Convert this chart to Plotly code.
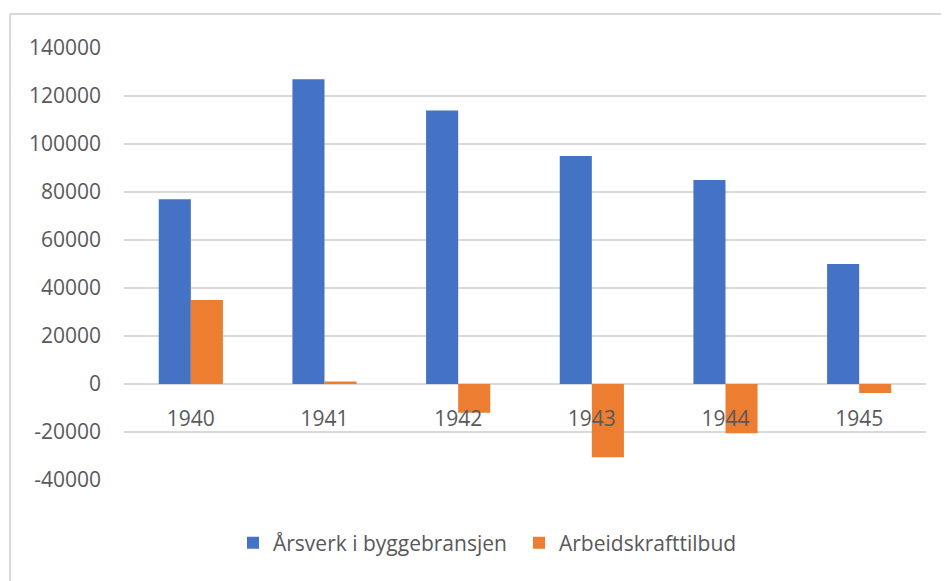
import plotly.graph_objects as go

years = ["1940", "1941", "1942", "1943", "1944", "1945"]
arsverk = [77000, 127000, 114000, 95000, 85000, 50000]
arbeidskraft = [35000, 1000, -12000, -30500, -20500, -3800]
y_ticks = [-40000, -20000, 0, 20000, 40000, 60000, 80000, 100000, 120000, 140000]

OFF = 8  # page body margin
W, H = 949 - OFF, 581 - OFF
# plot area in page pixels: x 124..926, y 48..480
ML, MT = 124 - OFF, 48 - OFF
MR = W - (926 - OFF)
MB = H - (480 - OFF)
PW, PH = W - ML - MR, H - MT - MB

def px_x(px):
    return (px - OFF - ML) / PW

def px_y(py):
    return (H - MB - (py - OFF)) / PH

FONT = "Open Sans"
GREY = "#595959"
FS = 21

fig = go.Figure()
fig.add_trace(go.Bar(x=years, y=arsverk, name="Årsverk i byggebransjen",
                     marker=dict(color="#4472C4", line=dict(width=0))))
fig.add_trace(go.Bar(x=years, y=arbeidskraft, name="Arbeidskrafttilbud",
                     marker=dict(color="#ED7D31", line=dict(width=0))))

ymin, ymax = -40000, 140000
fig.update_layout(
    width=W, height=H,
    margin=dict(l=ML, r=MR, t=MT, b=MB),
    paper_bgcolor="white", plot_bgcolor="white",
    barmode="group", bargap=0.52, bargroupgap=0,
    font=dict(family=FONT, size=FS, color=GREY),
    showlegend=True,
    legend=dict(orientation="h", x=px_x(233), xanchor="left",
                y=px_y(543), yanchor="middle",
                font=dict(family=FONT, size=FS, color=GREY),
                itemwidth=30, entrywidth=241, entrywidthmode="pixels",
                traceorder="normal"),
    xaxis=dict(anchor="free", position=(0 - ymin) / (ymax - ymin),
               showgrid=False, showline=False, ticks="",
               ticklabelstandoff=20,
               tickfont=dict(family=FONT, size=FS, color=GREY)),
    yaxis=dict(range=[ymin, ymax], tickvals=y_ticks,
               ticktext=[str(v) for v in y_ticks],
               showgrid=True, gridcolor="#D9D9D9", gridwidth=1.5,
               zeroline=True, zerolinecolor="#D9D9D9", zerolinewidth=1.5,
               showline=False, ticks="", ticklabelstandoff=22,
               tickfont=dict(family=FONT, size=FS, color=GREY)),
    shapes=[
        dict(type="line", xref="paper", yref="paper",
             x0=px_x(10), x1=px_x(10), y0=px_y(581), y1=px_y(14),
             line=dict(color="#D9D9D9", width=2)),
        dict(type="line", xref="paper", yref="paper",
             x0=px_x(10), x1=px_x(949), y0=px_y(14), y1=px_y(14),
             line=dict(color="#D9D9D9", width=2)),
    ],
)

fig.write_html("out.html")
